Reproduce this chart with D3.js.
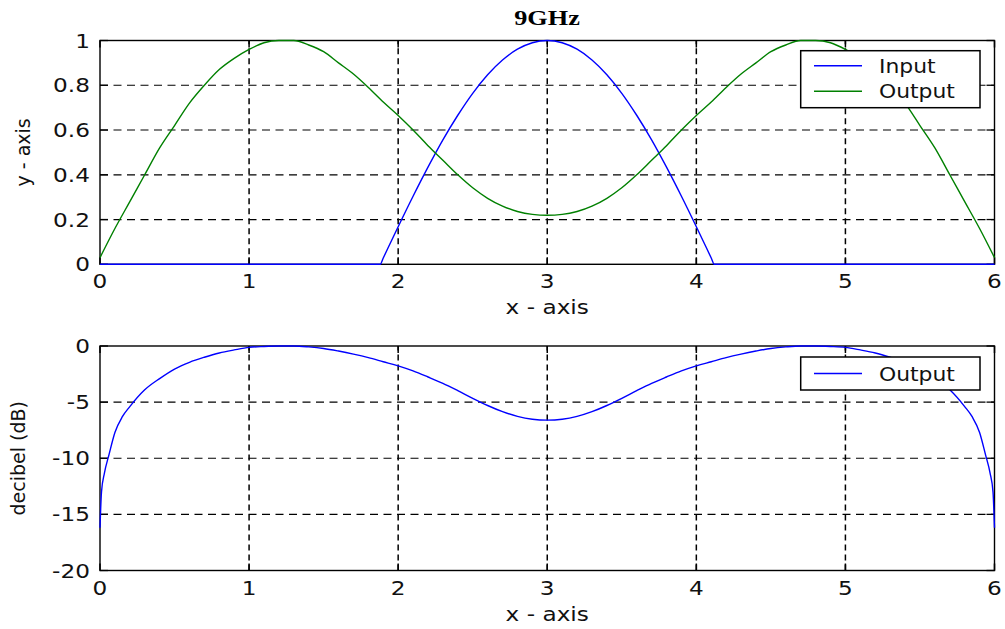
<!DOCTYPE html>
<html>
<head>
<meta charset="utf-8">
<script src="https://cdn.jsdelivr.net/npm/d3@7"></script>
<style>
  html, body { margin: 0; padding: 0; background: #fff; }
  svg { display: block; }
  text { font-family: "DejaVu Sans", sans-serif; fill: #111; }
</style>
</head>
<body>
<svg id="chart" width="1005" height="629"></svg>
<script>
// ---- data ----
const title = "9GHz";
const xTicks = [0, 1, 2, 3, 4, 5, 6];
const yTicksTop = [0, 0.2, 0.4, 0.6, 0.8, 1];
const yTicksBottom = [-20, -15, -10, -5, 0];

// Input pulse (top panel)
const inputX = [0, 1.88, 1.9, 2.0, 2.1, 2.2, 2.3, 2.4, 2.5, 2.6, 2.7, 2.8, 2.9, 3.0,
                3.1, 3.2, 3.3, 3.4, 3.5, 3.6, 3.7, 3.8, 3.9, 4.0, 4.1, 4.12, 6];
const inputY = [0, 0, 0.028, 0.168, 0.304, 0.434, 0.556, 0.666, 0.764, 0.847, 0.913, 0.961, 0.990, 1.0,
                0.990, 0.961, 0.913, 0.847, 0.764, 0.666, 0.556, 0.434, 0.304, 0.168, 0.028, 0, 0];

// Output response (top panel), x = 0 .. 6 step 0.1
const outputX = [0, 0.1, 0.2, 0.3, 0.4, 0.5, 0.6, 0.7, 0.8, 0.9, 1.0, 1.1, 1.2, 1.3, 1.4, 1.5, 1.6, 1.7, 1.8, 1.9,
                 2.0, 2.1, 2.2, 2.3, 2.4, 2.5, 2.6, 2.7, 2.8, 2.9, 3.0, 3.1, 3.2, 3.3, 3.4, 3.5, 3.6, 3.7, 3.8, 3.9,
                 4.0, 4.1, 4.2, 4.3, 4.4, 4.5, 4.6, 4.7, 4.8, 4.9, 5.0, 5.1, 5.2, 5.3, 5.4, 5.5, 5.6, 5.7, 5.8, 5.9, 6.0];
const outputY = [0.03, 0.16, 0.28, 0.40, 0.52, 0.62, 0.72, 0.80, 0.87, 0.92, 0.96, 0.99, 1.00, 1.00, 0.98, 0.95, 0.90, 0.85, 0.79, 0.725,
                 0.665, 0.60, 0.53, 0.465, 0.40, 0.342, 0.295, 0.26, 0.236, 0.223, 0.219, 0.223, 0.236, 0.26, 0.295, 0.342, 0.40, 0.465, 0.53, 0.60,
                 0.665, 0.725, 0.79, 0.85, 0.90, 0.95, 0.98, 1.00, 1.00, 0.99, 0.96, 0.92, 0.87, 0.80, 0.72, 0.62, 0.52, 0.40, 0.28, 0.16, 0.03];

// Output level in decibels (bottom panel)
const dbX = [0, 0.01, 0.03, 0.06, 0.1, 0.15, 0.2, 0.3, 0.4, 0.5, 0.6, 0.7, 0.8, 0.9, 1.0, 1.1, 1.2, 1.3, 1.4, 1.5, 1.6, 1.7, 1.8, 1.9,
             2.0, 2.1, 2.2, 2.3, 2.4, 2.5, 2.6, 2.7, 2.8, 2.9, 3.0, 3.1, 3.2, 3.3, 3.4, 3.5, 3.6, 3.7, 3.8, 3.9,
             4.0, 4.1, 4.2, 4.3, 4.4, 4.5, 4.6, 4.7, 4.8, 4.9, 5.0, 5.1, 5.2, 5.3, 5.4, 5.5, 5.6, 5.7, 5.8, 5.85, 5.9, 5.94, 5.97, 5.99, 6.0];
const dbY = [-16.2, -13.0, -11.3, -9.7, -7.7, -6.3, -5.4, -3.9, -2.9, -2.05, -1.45, -1.0, -0.62, -0.35, -0.12, -0.04, 0, 0, -0.08, -0.22, -0.45, -0.72, -1.03, -1.4,
             -1.77, -2.22, -2.76, -3.33, -3.98, -4.66, -5.3, -5.85, -6.27, -6.52, -6.6, -6.52, -6.27, -5.85, -5.3, -4.66, -3.98, -3.33, -2.76, -2.22,
             -1.77, -1.4, -1.03, -0.72, -0.45, -0.22, -0.08, 0, 0, -0.04, -0.12, -0.35, -0.62, -1.0, -1.45, -2.05, -2.9, -3.9, -5.4, -6.3, -7.7, -9.7, -11.3, -13.0, -16.2];

// ---- layout ----
const svg = d3.select("#chart");
const WIDEN = 1.22; // horizontal glyph stretch of the labels

function widen(sel, f) {
  sel.each(function () {
    const w = this.getComputedTextLength();
    this.setAttribute("textLength", w * f);
    this.setAttribute("lengthAdjust", "spacingAndGlyphs");
  });
}

const x = d3.scaleLinear().domain([0, 6]).range([100, 994.5]);

const panels = [
  { y: d3.scaleLinear().domain([0, 1]).range([264.3, 40.5]), ticks: yTicksTop,
    fmt: d => String(d), ylabel: "y - axis", ylabelX: 30,
    series: [{ xs: inputX, ys: inputY, color: "#0000ff" }, { xs: outputX, ys: outputY, color: "#008000" }],
    legend: [{ name: "Input", color: "#0000ff" }, { name: "Output", color: "#008000" }],
    legendTop: 50.7 },
  { y: d3.scaleLinear().domain([-20, 0]).range([570.5, 346]), ticks: yTicksBottom,
    fmt: d => String(d), ylabel: "decibel (dB)", ylabelX: 25,
    series: [{ xs: dbX, ys: dbY, color: "#0000ff" }],
    legend: [{ name: "Output", color: "#0000ff" }],
    legendTop: 357 }
];

panels.forEach(p => {
  const g = svg.append("g");
  const [x0, x1] = x.range();
  const yb = p.y.range()[0], yt = p.y.range()[1];

  // dashed grid
  g.selectAll(".hgrid").data(p.ticks.filter(t => t !== p.y.domain()[0] && t !== p.y.domain()[1]))
    .join("line")
    .attr("x1", x0).attr("x2", x1)
    .attr("y1", d => p.y(d)).attr("y2", d => p.y(d))
    .attr("stroke", "#000").attr("stroke-width", 1.2).attr("stroke-dasharray", "8,5.5");
  g.selectAll(".vgrid").data(xTicks.filter(t => t !== 0 && t !== 6))
    .join("line")
    .attr("y1", yb).attr("y2", yt)
    .attr("x1", d => x(d)).attr("x2", d => x(d))
    .attr("stroke", "#000").attr("stroke-width", 1.5).attr("stroke-dasharray", "6,4");

  // inward ticks on all four sides
  const tl = 8;
  p.ticks.forEach(t => {
    g.append("line").attr("x1", x0).attr("x2", x0 + tl).attr("y1", p.y(t)).attr("y2", p.y(t)).attr("stroke", "#000").attr("stroke-width", 1.3);
    g.append("line").attr("x1", x1).attr("x2", x1 - tl).attr("y1", p.y(t)).attr("y2", p.y(t)).attr("stroke", "#000").attr("stroke-width", 1.3);
  });
  xTicks.forEach(t => {
    g.append("line").attr("x1", x(t)).attr("x2", x(t)).attr("y1", yb).attr("y2", yb - 7).attr("stroke", "#000").attr("stroke-width", 1.5);
    g.append("line").attr("x1", x(t)).attr("x2", x(t)).attr("y1", yt).attr("y2", yt + 7).attr("stroke", "#000").attr("stroke-width", 1.5);
  });

  // axes box
  g.append("rect").attr("x", x0).attr("y", yt).attr("width", x1 - x0).attr("height", yb - yt)
    .attr("fill", "none").attr("stroke", "#000").attr("stroke-width", 1.4);

  // curves
  p.series.forEach(s => {
    const pts = s.xs.map((xv, i) => [xv, s.ys[i]]);
    const line = d3.line().x(d => x(d[0])).y(d => p.y(d[1])).curve(d3.curveMonotoneX);
    g.append("path").attr("d", line(pts)).attr("fill", "none")
      .attr("stroke", s.color).attr("stroke-width", 1.4);
  });

  // tick labels
  g.selectAll(".ylab").data(p.ticks).join("text")
    .attr("x", x0 - 10).attr("y", d => p.y(d) + 7)
    .attr("text-anchor", "end").attr("font-size", 19)
    .text(p.fmt).call(widen, WIDEN);
  g.selectAll(".xlab").data(xTicks).join("text")
    .attr("x", d => x(d)).attr("y", yb + 24)
    .attr("text-anchor", "middle").attr("font-size", 19)
    .text(d => String(d)).call(widen, WIDEN);

  // axis titles
  g.append("text").attr("x", (x0 + x1) / 2).attr("y", yb + 50)
    .attr("text-anchor", "middle").attr("font-size", 19)
    .text("x - axis").call(widen, WIDEN);
  g.append("text")
    .attr("transform", `translate(${p.ylabelX},${(yb + yt) / 2}) rotate(-90)`)
    .attr("text-anchor", "middle").attr("font-size", 19)
    .text(p.ylabel);

  // legend
  const lx0 = 800.7, lx1 = 980, rowH = 25.5;
  const lh = p.legend.length === 2 ? 57 : 33;
  const lg = g.append("g");
  lg.append("rect").attr("x", lx0).attr("y", p.legendTop).attr("width", lx1 - lx0).attr("height", lh)
    .attr("fill", "#fff").attr("stroke", "#000").attr("stroke-width", 1.5);
  p.legend.forEach((it, i) => {
    const cy = p.legendTop + (p.legend.length === 2 ? 15 + i * rowH : lh / 2);
    lg.append("line").attr("x1", 814).attr("x2", 862).attr("y1", cy).attr("y2", cy)
      .attr("stroke", it.color).attr("stroke-width", 1.4);
    lg.append("text").attr("x", 879).attr("y", cy + 7).attr("font-size", 19)
      .text(it.name).call(widen, 1.15);
  });
});

// title
svg.append("text").attr("x", 547).attr("y", 25).attr("text-anchor", "middle")
  .style("font-family", "'Liberation Serif', serif").style("font-weight", "bold").attr("font-size", 21)
  .style("fill", "#000")
  .text(title).call(widen, 1.25);
</script>
</body>
</html>
